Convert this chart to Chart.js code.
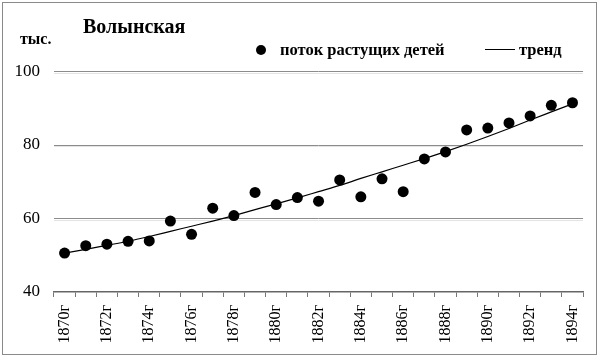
<!DOCTYPE html>
<html>
<head>
<meta charset="utf-8">
<script src="https://cdn.jsdelivr.net/npm/chart.js@4.4.1/dist/chart.umd.min.js"></script>
<style>
html,body{margin:0;padding:0;background:#fff;}
#wrap{position:relative;width:600px;height:358px;}
canvas{display:block;}
</style>
</head>
<body>
<div id="wrap"><canvas id="c" width="600" height="358"></canvas></div>
<script>
const years = ["1870г","1871г","1872г","1873г","1874г","1875г","1876г","1877г","1878г","1879г","1880г","1881г","1882г","1883г","1884г","1885г","1886г","1887г","1888г","1889г","1890г","1891г","1892г","1893г","1894г"];
const flowValues = [50.6,52.6,53.0,53.8,53.9,59.3,55.7,62.8,60.8,67.1,63.8,65.7,64.7,70.5,65.9,70.8,67.3,76.2,78.1,84.1,84.6,86.0,87.9,90.8,91.5];
const trendValues = [50.6,51.6,52.7,53.8,55.1,56.5,57.9,59.3,60.8,62.4,64.0,65.6,67.3,69.0,70.9,72.7,74.5,76.3,78.2,80.2,82.3,84.5,86.8,89.0,91.2];
const yTicks = [40,60,80,100];
const titleText = "Волынская";
const unitText = "тыс.";
const seriesNames = ["поток растущих детей","тренд"];

const SERIF = "'Liberation Serif','DejaVu Serif',serif";

const decor = {
  id:'decor',
  beforeDraw(chart){
    const ctx = chart.ctx;
    ctx.save();
    ctx.fillStyle='#fff';
    ctx.fillRect(0,0,chart.width,chart.height);
    ctx.strokeStyle='#8a8a8a';
    ctx.lineWidth=1;
    ctx.strokeRect(2.5,2.5,594,352);
    // faint shadow under gridlines
    const y = chart.scales.y, a = chart.chartArea;
    ctx.strokeStyle='#e4e4e4';
    [60,80,100].forEach(v=>{
      const py = Math.round(y.getPixelForValue(v))+1.5;
      ctx.beginPath();ctx.moveTo(a.left,py);ctx.lineTo(a.right,py);ctx.stroke();
    });
    ctx.restore();
  },
  afterDraw(chart){
    const ctx = chart.ctx;
    ctx.save();
    ctx.fillStyle='#000';
    ctx.textBaseline='alphabetic';
    ctx.textAlign='left';
    ctx.font="bold 20px "+SERIF;
    ctx.fillText(titleText,83,33);
    ctx.font="bold 16px "+SERIF;
    ctx.fillText(unitText,20,44);
    // legend
    const ds = chart.data.datasets;
    ctx.font="bold 16.5px "+SERIF;
    ctx.beginPath();
    ctx.arc(261,50,5,0,Math.PI*2);
    ctx.fill();
    ctx.fillText(ds[0].label,280,55);
    ctx.strokeStyle='#000';
    ctx.lineWidth=1;
    ctx.beginPath();
    ctx.moveTo(485,49.5);ctx.lineTo(515,49.5);ctx.stroke();
    ctx.fillText(ds[1].label,519,55);
    ctx.restore();
  }
};

new Chart(document.getElementById('c'),{
  type:'line',
  data:{
    labels:years,
    datasets:[
      {label:seriesNames[0],data:flowValues,showLine:false,pointRadius:5.5,pointBackgroundColor:'#000',pointBorderColor:'#000',pointBorderWidth:0,order:1},
      {label:seriesNames[1],data:trendValues,borderColor:'#000',borderWidth:1.2,pointRadius:0,tension:0.4,cubicInterpolationMode:'monotone',fill:false,order:2}
    ]
  },
  options:{
    responsive:false,
    animation:false,
    devicePixelRatio:1,
    layout:{padding:{left:0,right:16,top:71.5,bottom:6}},
    plugins:{legend:{display:false},tooltip:{enabled:false},title:{display:false}},
    scales:{
      x:{
        type:'category',
        offset:true,
        afterFit(s){s.height=60;},
        grid:{display:true,offset:true,drawOnChartArea:false,drawTicks:true,tickLength:5,color:'#777'},
        border:{display:true,color:'#666',width:1.5},
        ticks:{
          autoSkip:false,maxRotation:90,minRotation:90,padding:8,color:'#000',
          font:{family:SERIF,size:16},
          callback(v,i){return i%2===0?years[i]:'';}
        }
      },
      y:{
        min:40,max:100,
        afterFit(s){s.width=54;},
        afterBuildTicks(s){s.ticks=yTicks.map(v=>({value:v}));},
        grid:{display:true,drawTicks:false,color(c){return c.tick.value===40?'rgba(0,0,0,0)':'#8c8c8c';},lineWidth:1},
        border:{display:false},
        ticks:{padding:14,color:'#000',font:{family:SERIF,size:17}}
      }
    }
  },
  plugins:[decor]
});
</script>
</body>
</html>
